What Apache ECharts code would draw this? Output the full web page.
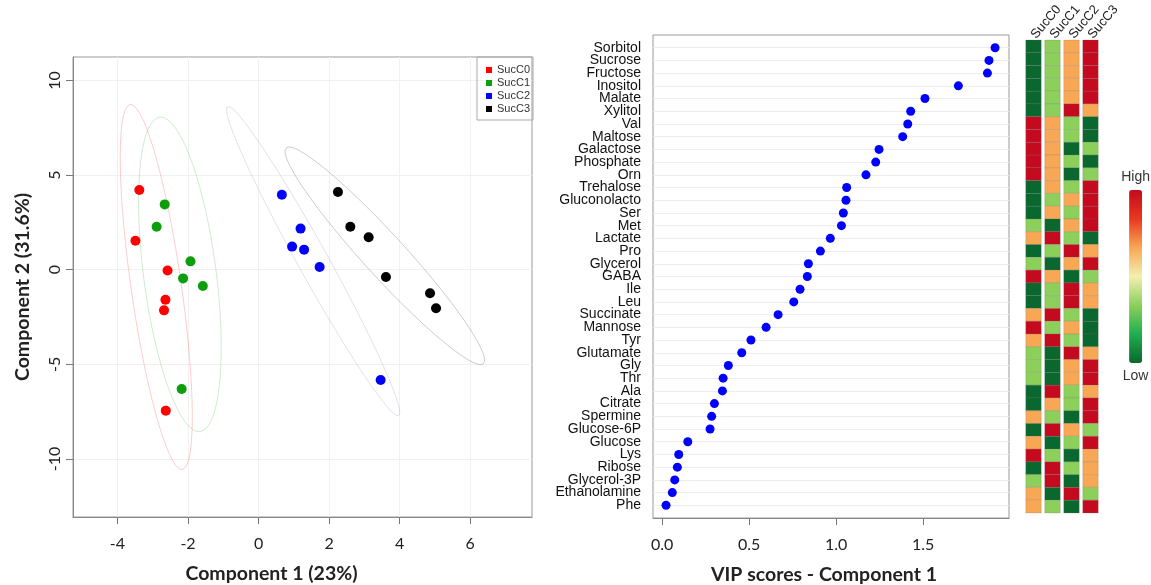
<!DOCTYPE html>
<html>
<head>
<meta charset="utf-8">
<script src="https://cdn.jsdelivr.net/npm/echarts@6/dist/echarts.min.js"></script>
<style>
  html, body { margin: 0; padding: 0; background: #fff; }
  #chart { width: 1151px; height: 585px; }
</style>
</head>
<body>
<div id="chart"></div>
<script>
// groups and PLS-DA scores
const groups = ['SucC0', 'SucC1', 'SucC2', 'SucC3'];
const groupColors = ['#ff0000', '#0c9e0c', '#0000ff', '#000000'];
const sucC0Comp1 = [-3.38, -3.49, -2.58, -2.64, -2.68, -2.63];
const sucC0Comp2 = [4.21, 1.53, -0.04, -1.59, -2.15, -7.45];
const sucC1Comp1 = [-2.66, -2.89, -1.93, -2.14, -1.58, -2.18];
const sucC1Comp2 = [3.45, 2.27, 0.44, -0.46, -0.86, -6.31];
const sucC2Comp1 = [0.66, 1.19, 0.95, 1.29, 1.73, 3.46];
const sucC2Comp2 = [3.96, 2.17, 1.22, 1.06, 0.14, -5.83];
const sucC3Comp1 = [2.25, 2.60, 3.12, 3.61, 4.86, 5.03];
const sucC3Comp2 = [4.11, 2.27, 1.71, -0.39, -1.25, -2.04];

const scoreXTicks = [-4, -2, 0, 2, 4, 6];
const scoreYTicks = [-10, -5, 0, 5, 10];

// VIP scores, component 1
const metabolites = ['Sorbitol', 'Sucrose', 'Fructose', 'Inositol', 'Malate', 'Xylitol', 'Val', 'Maltose',
  'Galactose', 'Phosphate', 'Orn', 'Trehalose', 'Gluconolacto', 'Ser', 'Met', 'Lactate', 'Pro',
  'Glycerol', 'GABA', 'Ile', 'Leu', 'Succinate', 'Mannose', 'Tyr', 'Glutamate', 'Gly', 'Thr', 'Ala',
  'Citrate', 'Spermine', 'Glucose-6P', 'Glucose', 'Lys', 'Ribose', 'Glycerol-3P', 'Ethanolamine', 'Phe'];
const vipScores = [1.914, 1.879, 1.870, 1.703, 1.511, 1.429, 1.412, 1.383, 1.247, 1.228, 1.172, 1.061,
  1.057, 1.042, 1.031, 0.967, 0.910, 0.841, 0.835, 0.793, 0.757, 0.667, 0.598, 0.511, 0.458, 0.381,
  0.351, 0.347, 0.301, 0.285, 0.276, 0.148, 0.096, 0.088, 0.073, 0.059, 0.023];
const vipTicks = [0, 0.5, 1, 1.5];

// heatmap levels (1 low .. 4 high)
const heatSucC0 = [1, 1, 1, 1, 1, 1, 4, 4, 4, 4, 4, 1, 1, 1, 2, 3, 1, 2, 4, 1, 1, 3, 4, 3, 2, 2, 2, 1, 1, 3, 1, 3, 4, 1, 2, 3, 3];
const heatSucC1 = [2, 2, 2, 2, 2, 2, 3, 3, 3, 3, 3, 3, 2, 3, 1, 4, 2, 1, 3, 2, 2, 4, 2, 4, 1, 1, 1, 4, 3, 2, 4, 1, 2, 4, 4, 1, 2];
const heatSucC2 = [3, 3, 3, 3, 3, 4, 2, 2, 1, 2, 1, 2, 3, 2, 3, 2, 4, 3, 1, 4, 4, 2, 3, 2, 4, 3, 3, 2, 2, 1, 3, 2, 1, 2, 1, 4, 1];
const heatSucC3 = [4, 4, 4, 4, 4, 3, 1, 1, 2, 1, 2, 4, 4, 4, 4, 1, 3, 4, 2, 3, 3, 1, 1, 1, 3, 4, 4, 3, 4, 4, 2, 4, 3, 3, 3, 2, 4];
const levelColors = ['#0a672e', '#1fae50', '#8ccf5b', '#f3efb0', '#f8a754', '#e8391f', '#c40a1f'];

const scoreX = [sucC0Comp1, sucC1Comp1, sucC2Comp1, sucC3Comp1];
const scoreY = [sucC0Comp2, sucC1Comp2, sucC2Comp2, sucC3Comp2];
const heat = [heatSucC0, heatSucC1, heatSucC2, heatSucC3];

// 95% confidence ellipse, same construction as ellipse::ellipse
function ellipse(xs, ys) {
  const n = xs.length;
  const mx = xs.reduce((a, b) => a + b, 0) / n;
  const my = ys.reduce((a, b) => a + b, 0) / n;
  let sxx = 0, syy = 0, sxy = 0;
  for (let i = 0; i < n; i++) {
    sxx += (xs[i] - mx) * (xs[i] - mx);
    syy += (ys[i] - my) * (ys[i] - my);
    sxy += (xs[i] - mx) * (ys[i] - my);
  }
  const sx = Math.sqrt(sxx / (n - 1));
  const sy = Math.sqrt(syy / (n - 1));
  const d = Math.acos(sxy / (n - 1) / (sx * sy));
  const t = Math.sqrt(5.991465);
  const pts = [];
  for (let k = 0; k <= 120; k++) {
    const a = 2 * Math.PI * k / 120;
    pts.push([t * sx * Math.cos(a + d / 2) + mx, t * sy * Math.cos(a - d / 2) + my]);
  }
  return pts;
}

const series = [];
groups.forEach(function (g, i) {
  series.push({
    name: g + ' ellipse',
    type: 'line',
    xAxisIndex: 0,
    yAxisIndex: 0,
    showSymbol: false,
    silent: true,
    z: 1,
    lineStyle: { color: i === 2 ? '#6a6aa8' : groupColors[i], width: 1, opacity: 0.2 },
    data: ellipse(scoreX[i], scoreY[i])
  });
});
groups.forEach(function (g, i) {
  series.push({
    name: g,
    type: 'scatter',
    xAxisIndex: 0,
    yAxisIndex: 0,
    symbolSize: 10,
    z: 3,
    itemStyle: { color: groupColors[i], opacity: 1 },
    data: scoreX[i].map((x, k) => [x, scoreY[i][k]])
  });
});
series.push({
  name: 'VIP',
  type: 'scatter',
  xAxisIndex: 3,
  yAxisIndex: 3,
  symbolSize: 9,
  itemStyle: { color: '#0000ff', opacity: 1 },
  data: vipScores.map((v, k) => [v, metabolites[k]])
});
const heatData = [];
heat.forEach(function (col, c) {
  col.forEach(function (v, r) {
    heatData.push([c, r, v]);
  });
});
series.push({
  name: 'heat',
  type: 'custom',
  xAxisIndex: 2,
  yAxisIndex: 2,
  encode: { x: 0, y: 1 },
  data: heatData,
  renderItem: function (params, api) {
    const c = api.coord([api.value(0), api.value(1)]);
    const s = api.size([1, 1]);
    const w = s[0] - 3.5;
    return {
      type: 'rect',
      shape: { x: c[0] - w / 2, y: c[1] - s[1] / 2, width: w, height: s[1] },
      style: { fill: api.visual('color'), stroke: 'rgba(110,110,110,0.3)', lineWidth: 0.7 }
    };
  }
});

const axisFont = 'Lato';
const vipMin = -0.052;
const vipMax = 1.994;
const chart = echarts.init(document.getElementById('chart'));
const option = {
  animation: false,
  backgroundColor: '#fff',
  grid: [
    { left: 73, top: 57, width: 459, height: 460, show: true, borderColor: '#999', borderWidth: 1, outerBoundsMode: 'none', containLabel: false },
    { left: 653, top: 35, width: 356, height: 483, show: true, borderColor: '#999', borderWidth: 1, outerBoundsMode: 'none', containLabel: false },
    { left: 1024, top: 40, width: 76, height: 473, outerBoundsMode: 'none', containLabel: false },
    { left: 653, top: 47.7, width: 356, height: 457.6, outerBoundsMode: 'none', containLabel: false }
  ],
  legend: {
    data: groups,
    orient: 'vertical',
    left: 477,
    top: 57,
    icon: 'rect',
    itemWidth: 6,
    itemHeight: 6,
    itemGap: 1,
    padding: [7, 3, 5, 9],
    borderColor: '#aaa',
    borderWidth: 1,
    textStyle: { fontSize: 11, color: '#333', fontFamily: 'Liberation Sans', lineHeight: 12 }
  },
  visualMap: {
    type: 'continuous',
    seriesIndex: 9,
    dimension: 2,
    min: 1,
    max: 4,
    calculable: false,
    right: 1,
    top: 170,
    padding: 0,
    itemWidth: 13,
    itemHeight: 173,
    text: ['High', 'Low'],
    textGap: 6,
    textStyle: { fontSize: 14, color: '#333', fontFamily: 'Liberation Sans' },
    inRange: { color: levelColors }
  },
  xAxis: [
    {
      gridIndex: 0,
      type: 'value',
      min: -5.26,
      max: 7.75,
      name: 'Component 1 (23%)',
      nameLocation: 'middle',
      nameGap: 47,
      nameTextStyle: { fontSize: 19.5, fontWeight: 'bold', color: '#222', fontFamily: axisFont, padding: [0, 62, 0, 0] },
      axisLine: { show: true, onZero: false, lineStyle: { color: '#888' } },
      axisTick: { show: true, length: 7, customValues: scoreXTicks, lineStyle: { color: '#777' } },
      axisLabel: { customValues: scoreXTicks, fontSize: 16, color: '#222', margin: 19, fontFamily: axisFont },
      splitLine: { show: true, lineStyle: { color: '#f1f1f1' } }
    },
    {
      gridIndex: 1,
      type: 'value',
      min: vipMin,
      max: vipMax,
      name: 'VIP scores - Component 1',
      nameLocation: 'middle',
      nameGap: 47,
      nameTextStyle: { fontSize: 19.5, fontWeight: 'bold', color: '#222', fontFamily: axisFont, padding: [0, 14, 0, 0] },
      axisLine: { show: true, onZero: false, lineStyle: { color: '#888' } },
      axisTick: { show: true, length: 7, customValues: vipTicks, lineStyle: { color: '#777' } },
      axisLabel: { customValues: vipTicks, fontSize: 16, color: '#222', margin: 19, fontFamily: axisFont, formatter: v => v.toFixed(1) },
      splitLine: { show: false }
    },
    {
      gridIndex: 2,
      type: 'category',
      position: 'top',
      data: groups,
      axisLine: { show: false },
      axisTick: { show: false },
      axisLabel: { interval: 0, rotate: -50, fontSize: 13, color: '#222', margin: 3, fontFamily: 'Liberation Sans' }
    },
    {
      gridIndex: 3,
      type: 'value',
      min: vipMin,
      max: vipMax,
      show: false
    }
  ],
  yAxis: [
    {
      gridIndex: 0,
      type: 'value',
      min: -13.07,
      max: 11.24,
      name: 'Component 2 (31.6%)',
      nameLocation: 'middle',
      nameGap: 40,
      nameRotate: 90,
      nameTextStyle: { fontSize: 19.5, fontWeight: 'bold', color: '#222', fontFamily: axisFont },
      axisLine: { show: true, onZero: false, lineStyle: { color: '#888' } },
      axisTick: { show: true, length: 7, customValues: scoreYTicks, lineStyle: { color: '#777' } },
      axisLabel: { customValues: scoreYTicks, rotate: 90, fontSize: 16, color: '#222', margin: 10, fontFamily: axisFont },
      splitLine: { show: true, lineStyle: { color: '#f1f1f1' } }
    },
    {
      gridIndex: 1,
      type: 'value',
      min: 0,
      max: 1,
      show: false
    },
    {
      gridIndex: 2,
      type: 'category',
      inverse: true,
      data: metabolites,
      show: false
    },
    {
      gridIndex: 3,
      type: 'category',
      inverse: true,
      boundaryGap: false,
      data: metabolites,
      axisLine: { show: false },
      axisTick: { show: false },
      axisLabel: {
        interval: 0,
        fontSize: 14,
        color: '#111',
        margin: 12,
        padding: [3, 0, 0, 0],
        fontFamily: 'Liberation Sans'
      },
      splitLine: { show: true, interval: 0, lineStyle: { color: '#ececec' } }
    }
  ],
  series: series
};
chart.setOption(option);
</script>
</body>
</html>
